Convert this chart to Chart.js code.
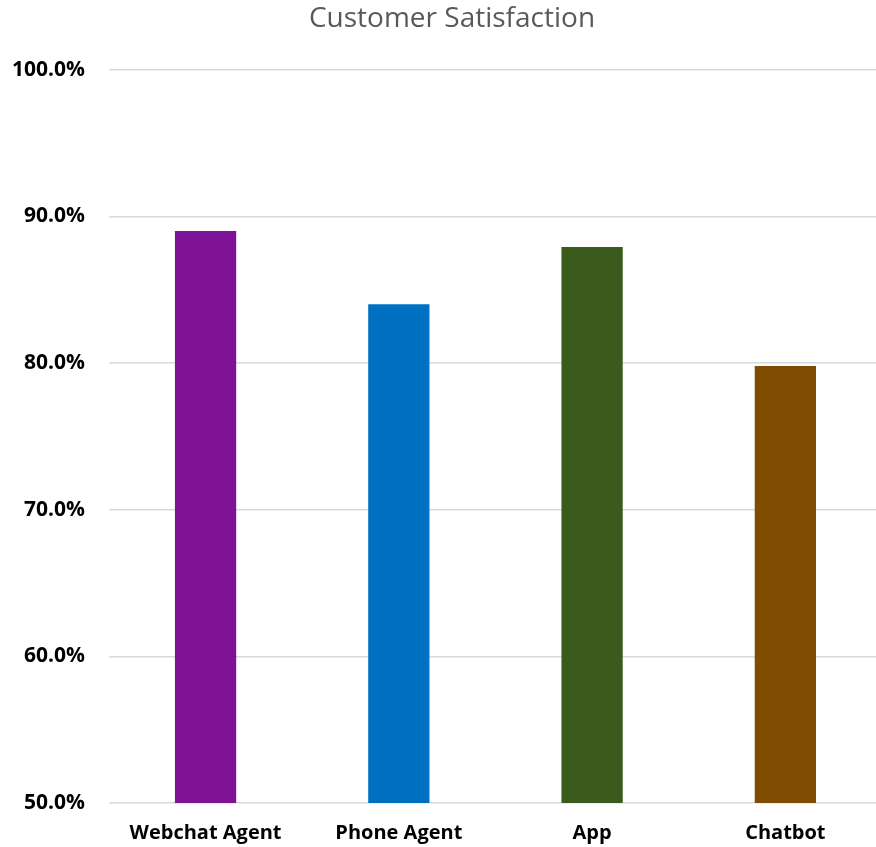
<!DOCTYPE html>
<html>
<head>
<meta charset="utf-8">
<script src="https://cdn.jsdelivr.net/npm/chart.js@4"></script>
<style>
  html, body { margin: 0; padding: 0; background: #fff; overflow: hidden; }
  #wrap { width: 884px; height: 847px; position: relative; }
</style>
</head>
<body>
<div id="wrap"><canvas id="satChart"></canvas></div>
<script>
// Satisfaction score by support channel (%)
const channels = ['Webchat Agent', 'Phone Agent', 'App', 'Chatbot'];
const satisfaction = [89.0, 84.0, 87.9, 79.8];
const barColors = ['#7F1397', '#0070C0', '#3A5B1C', '#7F4C02'];

const fontFamily = "'Open Sans', 'Liberation Sans', sans-serif";

// nudge the title box right so it sits over the plot rather than the whole canvas
const titleShift = {
    id: 'titleShift',
    afterLayout(chart) {
        const t = chart.titleBlock;
        if (t) {
            t.left += 17;
            t.right += 17;
        }
    }
};

document.addEventListener("DOMContentLoaded", function () {
    const ctx = document.getElementById('satChart').getContext('2d');
    new Chart(ctx, {
        type: 'bar',
        data: {
            labels: channels,
            datasets: [{
                label: 'Customer Satisfaction',
                data: satisfaction,
                backgroundColor: barColors,
                borderWidth: 0,
                categoryPercentage: 1.0,
                barPercentage: 0.317
            }]
        },
        plugins: [titleShift],
        options: {
            responsive: true,
            maintainAspectRatio: false,
            animation: false,
            layout: { padding: { top: 0, left: -12, right: 2, bottom: -16 } },
            plugins: {
                legend: { display: false },
                tooltip: { enabled: false },
                title: {
                    display: true,
                    text: 'Customer Satisfaction',
                    color: '#595959',
                    font: { family: fontFamily, size: 28, weight: 'normal' },
                    padding: { top: 2, bottom: 34 }
                }
            },
            scales: {
                x: {
                    grid: { display: false, drawTicks: false },
                    border: { display: false },
                    ticks: {
                        color: '#000',
                        font: { family: fontFamily, size: 20, weight: 'bold' },
                        padding: 18
                    }
                },
                y: {
                    min: 50,
                    max: 100,
                    border: { display: false },
                    grid: { color: '#d9d9d9', lineWidth: 1.5, drawTicks: false },
                    ticks: {
                        stepSize: 10,
                        color: '#000',
                        padding: 24,
                        font: { family: fontFamily, size: 21, weight: 'bold' },
                        callback: function (value) {
                            return value.toFixed(1) + '%';
                        }
                    }
                }
            }
        }
    });
});
</script>
</body>
</html>
